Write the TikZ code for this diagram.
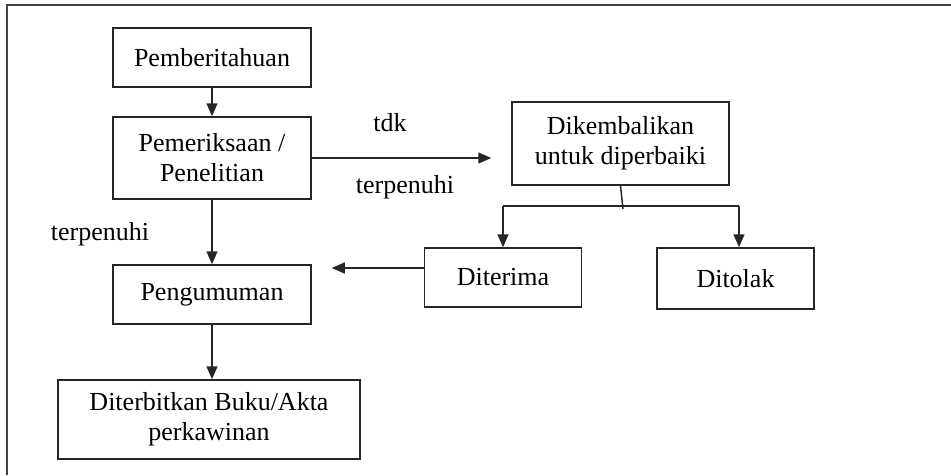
\documentclass[tikz,border=0pt]{standalone}
\usepackage{fontspec}
\setmainfont{Liberation Serif}
\usetikzlibrary{arrows.meta}
\begin{document}
\begin{tikzpicture}[x=1pt,y=-1pt,
  box/.style={draw=black!85,line width=1.5pt,rectangle,align=center,inner sep=0pt,
    font=\fontsize{26}{30}\selectfont},
  lbl/.style={font=\fontsize{26}{30}\selectfont,inner sep=0pt},
  arr/.style={draw=black!85,line width=1.5pt,-{Triangle[length=13pt,width=11pt]}},
  ln/.style={draw=black!85,line width=1.5pt}]
\useasboundingbox (0,0) rectangle (951,475);
\draw[draw=black!75,line width=2pt] (951,5) -- (7,5) -- (7,475);

\node[box,minimum width=198pt,minimum height=59pt] (pemb) at (212,57.5) {Pemberitahuan};
\node[box,minimum width=198pt,minimum height=82pt] (pem) at (212,158) {Pemeriksaan /\\Penelitian};
\node[box,minimum width=198pt,minimum height=59pt] (peng) at (212,294.5) {Pengumuman};
\node[box,minimum width=302pt,minimum height=79pt] (terb) at (209,419.5) {Diterbitkan Buku/Akta\\perkawinan};
\node[box,minimum width=217pt,minimum height=83pt] (dik) at (620.5,143.5) {Dikembalikan\\untuk diperbaiki};
\node[box,minimum width=157pt,minimum height=59pt] (ditr) at (503,277.5) {Diterima};
\node[box,minimum width=157pt,minimum height=61pt] (dtl) at (735.5,278.5) {Ditolak};

\node[lbl] (tdk) at (390,123) {tdk};
\node[lbl] (tp1) at (405,187) {terpenuhi};
\node[lbl] (tp2) at (100,234) {terpenuhi};

\draw[arr] (pemb.south) -- (pem.north);
\draw[arr,shorten >=20pt] (pem.east) -- (pem.east -| dik.west);
\draw[arr] (pem.south) -- (peng.north);
\draw[arr] (peng.south) -- (peng.south |- terb.north);

\coordinate (j) at (623,206);
\coordinate (jl) at (503,206);
\coordinate (jr) at (739,206);
\draw[ln] (dik.south) -- ([yshift=-3pt]j);
\draw[ln] (jl) -- (jr);
\draw[arr] (jl) -- (ditr.north);
\draw[arr] (jr) -- (jr |- dtl.north);
\draw[arr,shorten >=20pt] ([yshift=9.5pt]ditr.west) -- ([yshift=9.5pt]ditr.west -| peng.east);
\end{tikzpicture}
\end{document}
